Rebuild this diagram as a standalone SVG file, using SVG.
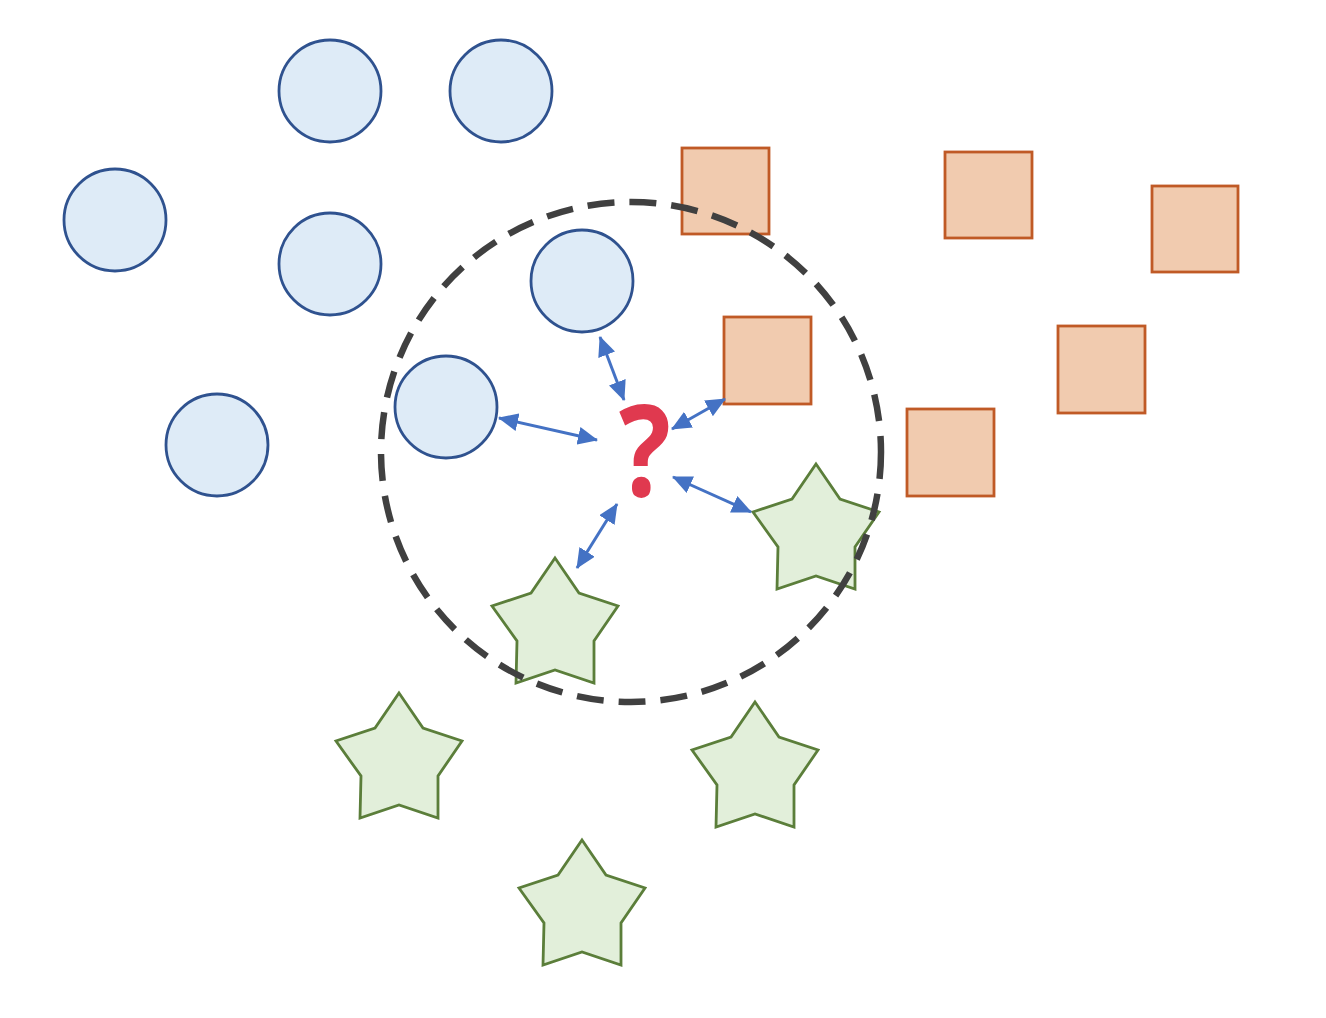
<svg xmlns="http://www.w3.org/2000/svg" width="1326" height="1018" viewBox="0 0 1326 1018">
<style>
.c{fill:#DEEBF7;stroke:#2F528F;stroke-width:2.8}
.s{fill:#F1CBAF;stroke:#C05A26;stroke-width:2.8}
.st{fill:#E2EFDA;stroke:#5B7E3A;stroke-width:2.8;stroke-linejoin:miter}
.a{stroke:#4472C4;stroke-width:3;fill:none;marker-start:url(#h);marker-end:url(#h)}
</style>
<defs>
<marker id="h" viewBox="0 0 20 18" refX="19" refY="9" markerWidth="20" markerHeight="18" markerUnits="userSpaceOnUse" orient="auto-start-reverse">
<path d="M0,0 L20,9 L0,18 Z" fill="#4472C4"/>
</marker>
<path id="star" d="M0,0 L24,35 L63,48 L39,83 L39,125 L0,112 L-39,125 L-38,83 L-63,48 L-24,35 Z"/>
</defs>
<rect width="1326" height="1018" fill="#fff"/>
<g id="circles">
<g id="c1"><circle class="c" cx="330" cy="91" r="51"/></g>
<g id="c2"><circle class="c" cx="501" cy="91" r="51"/></g>
<g id="c3"><circle class="c" cx="115" cy="220" r="51"/></g>
<g id="c4"><circle class="c" cx="330" cy="264" r="51"/></g>
<g id="c5"><circle class="c" cx="582" cy="281" r="51"/></g>
<g id="c6"><circle class="c" cx="446" cy="407" r="51"/></g>
<g id="c7"><circle class="c" cx="217" cy="445" r="51"/></g>
</g>
<g id="squares">
<g id="s1"><rect class="s" x="682" y="148" width="87" height="86"/></g>
<g id="s2"><rect class="s" x="945" y="152" width="87" height="86"/></g>
<g id="s3"><rect class="s" x="1152" y="186" width="86" height="86"/></g>
<g id="s4"><rect class="s" x="724" y="317" width="87" height="87"/></g>
<g id="s5"><rect class="s" x="1058" y="326" width="87" height="87"/></g>
<g id="s6"><rect class="s" x="907" y="409" width="87" height="87"/></g>
</g>
<g id="stars">
<g id="t1"><use href="#star" class="st" x="555" y="558"/></g>
<g id="t2"><use href="#star" class="st" x="816" y="464"/></g>
<g id="t3"><use href="#star" class="st" x="399" y="693"/></g>
<g id="t4"><use href="#star" class="st" x="755" y="702"/></g>
<g id="t5"><use href="#star" class="st" x="582" y="840"/></g>
</g>
<g id="neighborhood">
<circle cx="631" cy="452" r="250" fill="none" stroke="#404040" stroke-width="6.5" stroke-dasharray="27,15"/>
</g>
<g id="query">
<text x="645" y="496" font-family="Open Sans, Liberation Sans, sans-serif" font-weight="bold" font-size="128" fill="#E0394F" text-anchor="middle" transform="translate(645,0) scale(0.85,1) translate(-645,0)">?</text>
</g>
<g id="connectors">
<line class="a" x1="600" y1="337" x2="624" y2="400"/>
<line class="a" x1="499" y1="418" x2="597" y2="440"/>
<line class="a" x1="725" y1="399" x2="672" y2="429"/>
<line class="a" x1="673" y1="477" x2="751" y2="512"/>
<line class="a" x1="617" y1="504" x2="577" y2="568"/>
</g>
</svg>
